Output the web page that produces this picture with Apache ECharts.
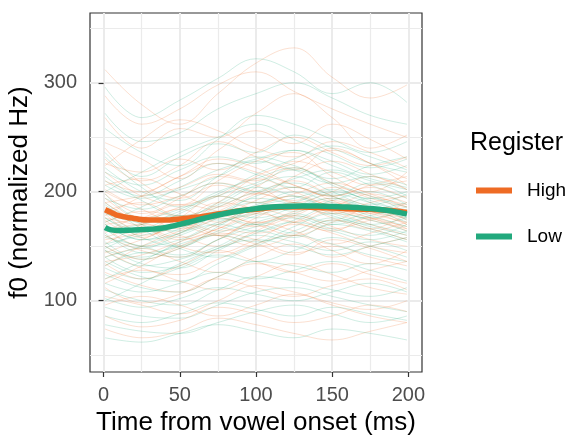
<!DOCTYPE html>
<html>
<head>
    <meta charset='utf-8'>
    <script src="https://cdn.jsdelivr.net/npm/echarts@6/dist/echarts.min.js"></script>
</head>
<body>
<style>
    html, body, #main {
        width: 100%;
        height: 100%;
        margin: 0;
        padding: 0;
        background: #fff;
    }
</style>
<div id="main"></div>
<script>

    // mean contours per register
    var meanTimes = [1, 5, 10, 20, 30, 40, 50, 60, 70, 80, 90, 100, 110, 120, 130, 140, 150, 160, 170, 180, 190, 199];
    var highMean = [183.5, 181, 178, 175.5, 174, 174, 175, 176.5, 178.5, 180.5, 182.5, 184, 185.5, 186, 186, 185.5, 185, 184.5, 184, 183.5, 182.5, 181];
    var lowMean = [167, 165, 164.5, 165, 165.5, 167, 170, 173.5, 177, 180, 182.5, 184.5, 186, 186.5, 187, 187, 186.5, 186, 185, 184, 182, 179.5];

    // individual tokens (faint background lines), sampled at tokenTimes
    var tokenTimes = [1, 25, 50, 75, 100, 125, 150, 175, 199];
    var highTokens = [
        [312, 280, 262, 290, 318, 332, 305, 286, 298],
        [268, 240, 258, 250, 272, 290, 268, 240, 252],
        [245, 230, 212, 238, 256, 244, 262, 248, 230],
        [230, 210, 224, 246, 232, 220, 240, 226, 212],
        [218, 196, 188, 210, 228, 236, 214, 200, 218],
        [206, 212, 198, 186, 204, 222, 208, 194, 186],
        [198, 180, 194, 214, 206, 190, 200, 214, 202],
        [190, 172, 168, 182, 198, 210, 196, 182, 176],
        [186, 176, 184, 172, 186, 196, 188, 198, 190],
        [180, 160, 170, 190, 184, 172, 182, 174, 166],
        [176, 168, 156, 166, 180, 188, 176, 166, 180],
        [172, 182, 176, 164, 170, 182, 194, 186, 170],
        [168, 150, 162, 178, 170, 160, 172, 184, 174],
        [164, 170, 160, 150, 164, 178, 168, 156, 150],
        [160, 146, 140, 156, 172, 164, 152, 162, 172],
        [156, 162, 170, 160, 150, 160, 174, 166, 156],
        [150, 138, 148, 162, 156, 144, 150, 140, 132],
        [146, 130, 124, 138, 152, 160, 146, 134, 146],
        [140, 148, 136, 126, 140, 152, 140, 150, 158],
        [134, 120, 132, 146, 136, 126, 134, 124, 116],
        [126, 114, 108, 122, 134, 126, 118, 128, 136],
        [120, 128, 118, 110, 122, 134, 124, 112, 106],
        [112, 98, 106, 120, 112, 104, 114, 120, 110],
        [104, 96, 88, 100, 114, 108, 98, 92, 100],
        [96, 104, 96, 86, 96, 106, 96, 86, 80],
        [86, 76, 82, 94, 88, 80, 86, 96, 90],
        [74, 66, 72, 84, 78, 70, 64, 72, 80],
        [224, 248, 266, 256, 240, 232, 246, 236, 222],
        [178, 196, 214, 230, 222, 206, 196, 206, 214],
        [152, 170, 186, 196, 212, 200, 186, 176, 168],
        [132, 150, 164, 176, 168, 178, 190, 182, 170],
        [194, 170, 150, 144, 156, 170, 162, 150, 144],
        [288, 262, 276, 298, 310, 292, 276, 262, 250],
        [240, 208, 194, 206, 198, 214, 228, 216, 202],
        [116, 132, 150, 160, 152, 142, 156, 148, 136],
        [202, 184, 172, 190, 214, 226, 238, 226, 206],
        [200, 188, 196, 208, 200, 192, 204, 196, 188],
        [182, 190, 178, 186, 198, 190, 180, 190, 196],
        [170, 176, 188, 182, 172, 180, 192, 180, 172],
        [158, 166, 158, 170, 184, 176, 166, 174, 182],
        [210, 200, 214, 226, 218, 206, 196, 204, 194],
        [144, 156, 168, 160, 176, 190, 182, 170, 160],
        [190, 196, 204, 216, 210, 228, 218, 206, 210],
        [174, 158, 176, 196, 190, 198, 208, 198, 186],
        [136, 142, 154, 166, 180, 172, 164, 176, 166],
        [226, 218, 230, 220, 236, 250, 236, 224, 232],
        [162, 176, 166, 176, 192, 204, 192, 180, 190],
        [184, 164, 176, 168, 162, 172, 184, 176, 164]
    ];
    var lowTokens = [
        [296, 268, 284, 304, 322, 310, 290, 300, 282],
        [258, 236, 224, 248, 270, 262, 248, 236, 246],
        [236, 214, 232, 244, 236, 252, 240, 226, 218],
        [222, 200, 192, 214, 232, 224, 212, 224, 232],
        [210, 196, 210, 226, 216, 204, 218, 206, 194],
        [198, 176, 184, 200, 212, 222, 206, 194, 200],
        [190, 170, 164, 180, 196, 204, 196, 208, 196],
        [182, 164, 172, 190, 204, 196, 184, 176, 184],
        [176, 158, 150, 168, 186, 194, 202, 190, 174],
        [170, 156, 166, 180, 190, 182, 192, 200, 188],
        [166, 150, 156, 172, 180, 190, 180, 170, 162],
        [162, 144, 150, 164, 178, 186, 194, 184, 172],
        [158, 150, 142, 156, 172, 178, 170, 178, 186],
        [154, 138, 148, 162, 170, 162, 174, 166, 156],
        [150, 134, 130, 146, 162, 172, 164, 156, 164],
        [146, 140, 152, 160, 154, 164, 176, 168, 160],
        [140, 126, 132, 148, 160, 154, 146, 154, 146],
        [136, 122, 118, 134, 150, 160, 152, 142, 136],
        [130, 120, 130, 142, 136, 146, 158, 150, 140],
        [124, 112, 108, 122, 136, 132, 126, 134, 128],
        [116, 108, 116, 126, 120, 128, 136, 128, 118],
        [110, 100, 96, 110, 122, 118, 110, 104, 112],
        [102, 94, 102, 112, 106, 100, 108, 116, 108],
        [94, 86, 84, 96, 108, 112, 104, 96, 90],
        [86, 80, 88, 98, 92, 86, 94, 88, 82],
        [78, 72, 70, 80, 90, 96, 88, 80, 86],
        [66, 62, 70, 78, 72, 66, 74, 70, 64],
        [200, 218, 236, 250, 262, 248, 234, 222, 230],
        [172, 186, 204, 220, 230, 238, 224, 212, 204],
        [148, 164, 180, 196, 208, 220, 208, 196, 186],
        [120, 136, 154, 170, 182, 190, 200, 192, 180],
        [188, 166, 148, 140, 152, 168, 180, 174, 164],
        [272, 246, 254, 276, 290, 300, 286, 270, 262],
        [232, 204, 186, 198, 216, 230, 242, 232, 220],
        [100, 116, 134, 148, 156, 150, 142, 150, 158],
        [214, 192, 178, 188, 206, 214, 200, 188, 198],
        [180, 172, 182, 196, 190, 200, 190, 184, 176],
        [164, 170, 178, 174, 188, 196, 186, 194, 180],
        [152, 160, 168, 182, 176, 186, 198, 190, 182],
        [170, 156, 162, 176, 194, 188, 178, 170, 176],
        [194, 184, 196, 208, 200, 212, 220, 210, 202],
        [140, 150, 162, 176, 170, 180, 172, 182, 190],
        [206, 194, 202, 214, 228, 220, 208, 214, 206],
        [160, 148, 160, 170, 164, 174, 186, 178, 168],
        [132, 144, 140, 156, 168, 176, 166, 160, 170],
        [218, 206, 220, 232, 226, 238, 228, 216, 224],
        [176, 164, 170, 186, 200, 208, 196, 184, 178],
        [146, 132, 138, 150, 164, 158, 170, 164, 154]
    ];

    var xTicks = [0, 50, 100, 150, 200];
    var xMinor = [25, 75, 125, 175];
    var yTicks = [100, 200, 300];
    var yMinor = [50, 150, 250, 350];

    var highColor = '#EE6B24';
    var lowColor = '#22A97D';
    var font = 'Arial, "Liberation Sans", sans-serif';

    function zip(xs, ys) {
        return xs.map(function (x, i) {
            return [x, ys[i]];
        });
    }

    var series = [];

    function addToken(vals, color, name) {
        series.push({
            name: name,
            type: 'line',
            data: zip(tokenTimes, vals),
            smooth: 0.4,
            symbol: 'none',
            silent: true,
            lineStyle: {color: color, width: 0.9, opacity: 0.24},
            z: 2
        });
    }

    // interleave so neither colour sits fully on top
    for (var i = 0; i < highTokens.length; i++) {
        addToken(highTokens[i], highColor, 'High tokens');
        addToken(lowTokens[i], lowColor, 'Low tokens');
    }

    series.push({
        name: 'High',
        type: 'line',
        data: zip(meanTimes, highMean),
        smooth: true,
        symbol: 'none',
        itemStyle: {color: highColor},
        lineStyle: {color: highColor, width: 5.5},
        z: 5
    });
    series.push({
        name: 'Low',
        type: 'line',
        data: zip(meanTimes, lowMean),
        smooth: true,
        symbol: 'none',
        itemStyle: {color: lowColor},
        lineStyle: {color: lowColor, width: 5.5},
        z: 6
    });

    var chart = echarts.init(document.getElementById('main'));

    var xMin = -8.9, xMax = 208.9;
    var yMin = 34.6, yMax = 364;

    chart.setOption({
        animation: false,
        textStyle: {fontFamily: font},
        title: {
            text: 'Register',
            left: 465,
            top: 126,
            textStyle: {fontSize: 25, fontWeight: 'normal', color: '#000', fontFamily: font}
        },
        legend: {
            data: [{name: 'High', icon: 'rect'}, {name: 'Low', icon: 'rect'}],
            orient: 'vertical',
            left: 471,
            top: 176,
            itemWidth: 36,
            itemHeight: 6,
            itemGap: 27,
            selectedMode: false,
            textStyle: {fontSize: 19, color: '#000', fontFamily: font, padding: [0, 0, 0, 10]}
        },
        grid: {
            left: 90,
            top: 13,
            width: 332,
            height: 359,
            outerBoundsMode: 'none',
            show: true,
            borderColor: '#333',
            borderWidth: 1.2,
            backgroundColor: 'transparent'
        },
        xAxis: [{
            type: 'value',
            min: xMin,
            max: xMax,
            name: 'Time from vowel onset (ms)',
            nameLocation: 'middle',
            nameGap: 38,
            nameTextStyle: {fontSize: 26, color: '#000', fontFamily: font},
            axisLine: {show: false},
            axisTick: {show: true, customValues: xTicks, length: 5, lineStyle: {color: '#333', width: 1.2}},
            axisLabel: {customValues: xTicks, margin: 13, fontSize: 20, color: '#4D4D4D', fontFamily: font},
            splitLine: {show: true, lineStyle: {color: '#EBEBEB', width: 2}}
        }, {
            type: 'value',
            min: xMin,
            max: xMax,
            position: 'top',
            axisLine: {show: false},
            axisTick: {show: false, customValues: xMinor},
            axisLabel: {show: false},
            splitLine: {show: true, lineStyle: {color: '#EBEBEB', width: 1.2}}
        }],
        yAxis: [{
            type: 'value',
            min: yMin,
            max: yMax,
            name: 'f0 (normalized Hz)',
            nameLocation: 'middle',
            nameGap: 56,
            nameTextStyle: {fontSize: 26, color: '#000', fontFamily: font},
            axisLine: {show: false},
            axisTick: {show: true, customValues: yTicks, length: 5, lineStyle: {color: '#333', width: 1.2}},
            axisLabel: {customValues: yTicks, margin: 13, fontSize: 20, color: '#4D4D4D', fontFamily: font},
            splitLine: {show: true, lineStyle: {color: '#EBEBEB', width: 2}}
        }, {
            type: 'value',
            min: yMin,
            max: yMax,
            position: 'right',
            axisLine: {show: false},
            axisTick: {show: false, customValues: yMinor},
            axisLabel: {show: false},
            splitLine: {show: true, lineStyle: {color: '#EBEBEB', width: 1.2}}
        }],
        series: series
    });

    window.onresize = function () {
        chart.resize();
    };
</script>
</body>
</html>
